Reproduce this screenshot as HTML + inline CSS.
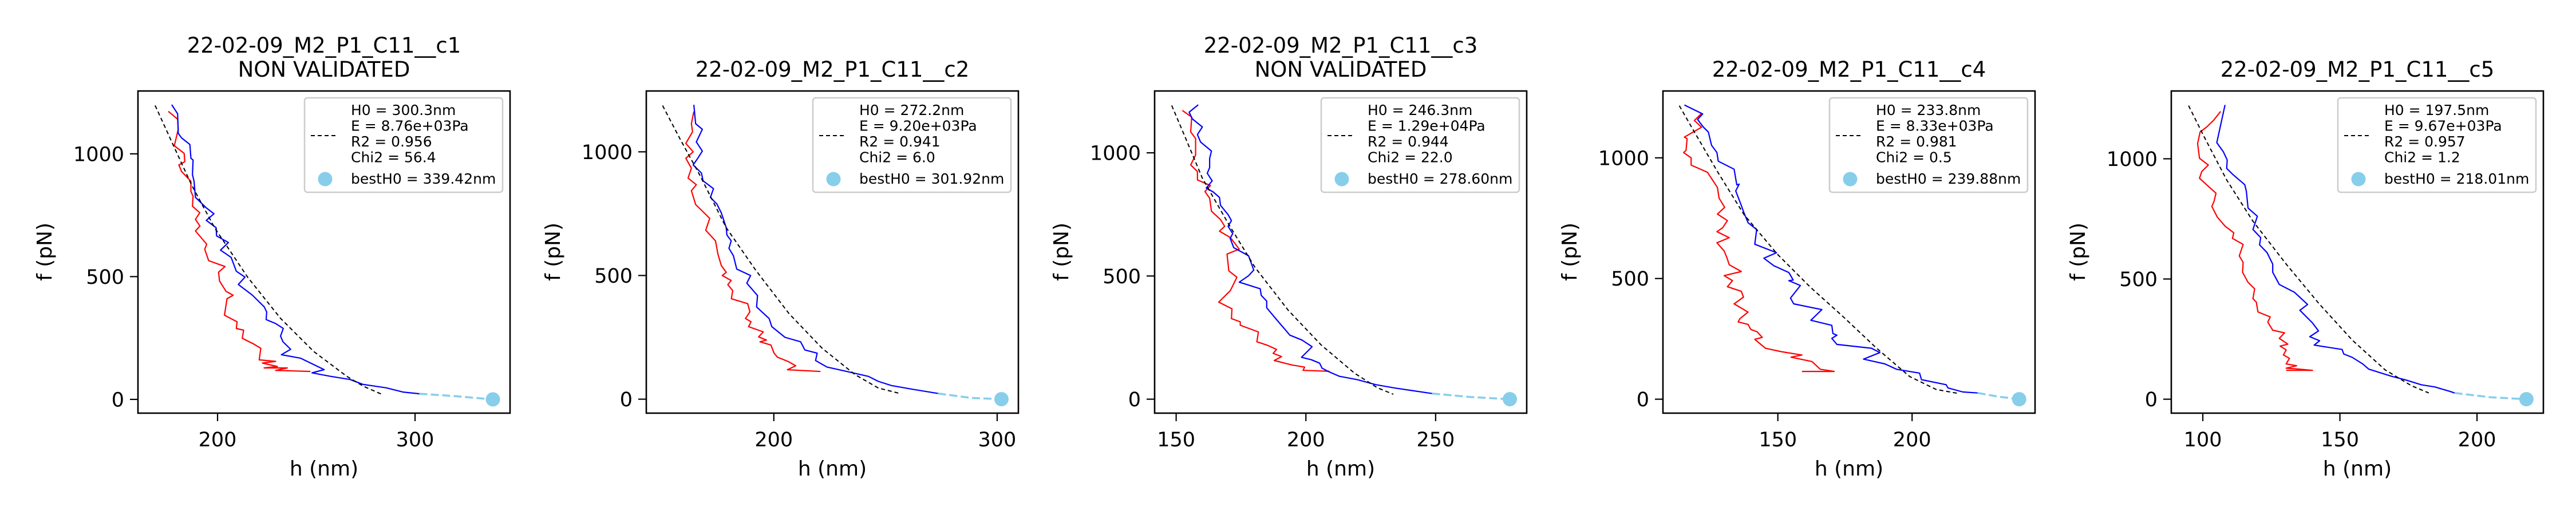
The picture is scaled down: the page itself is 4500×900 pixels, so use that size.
<!DOCTYPE html>
<html><head><meta charset="utf-8"><title>H0 fits</title>
<style>
html,body{margin:0;padding:0;background:#fff;}
svg{display:block;font-family:"DejaVu Sans","Liberation Sans",sans-serif;}
</style></head>
<body>
<svg id="fig" width="4500" height="900" viewBox="0 0 4500 900" xmlns="http://www.w3.org/2000/svg">
<rect width="4500" height="900" fill="#fff"/>
</svg>
<script>
// ---- data ----
const titles = ["22-02-09_M2_P1_C11__c1","22-02-09_M2_P1_C11__c2","22-02-09_M2_P1_C11__c3","22-02-09_M2_P1_C11__c4","22-02-09_M2_P1_C11__c5"];
const validated = [false,true,false,true,true];
const fitH0 = ["300.3","272.2","246.3","233.8","197.5"];
const fitE = ["8.76e+03","9.20e+03","1.29e+04","8.33e+03","9.67e+03"];
const fitR2 = ["0.956","0.941","0.944","0.981","0.957"];
const fitChi2 = ["56.4","6.0","22.0","0.5","1.2"];
const bestH0 = [339.42,301.92,278.60,239.88,218.01];
const xMin = [159.7,142.9,141.7,107.2,88.5];
const xMax = [348.1,309.5,285.1,245.8,224.2];
const yMin = [-56,-56.5,-56.7,-57.8,-58];
const yMax = [1256,1246,1251,1277,1282];
const xTicks = [[200,300],[200,300],[150,200,250],[150,200],[100,150,200]];
const yTicks = [0,500,1000];

const p1BlueH = [176.8,179.8,180.1,181.8,186.0,186.5,187.6,187.3,188.1,188.8,194.3,198.2,194.3,199.3,199.5,205.5,201.5,206.9,209.5,213.9,210.5,217.7,223.6,224.9,224.6,229.4,233.3,231.9,233.1,237.0,232.3,242.0,254.0,247.8,257.0,267.1,273.7,285.5,293.8,302.2];
const p1BlueF = [1200,1163,1083,1065,1038,982,975,915,888,823,780,756,729,699,666,639,608,578,522,498,468,424,377,356,325,309,289,258,235,204,182,168,121,108,94,81,61,47,30,23];
const p1RedH = [175.1,179.8,180.1,178.1,183.1,183.4,180.4,181.8,186.5,186.5,187.6,187.3,191.0,188.8,191.1,188.8,194.5,193.5,195.5,203.8,200.5,201.0,204.3,207.9,204.8,203.5,209.9,209.5,213.2,212.5,218.2,221.9,221.1,229.4,222.7,230.3,223.6,235.3,229.4,247.0];
const p1RedF = [1173,1141,1100,1033,1002,968,955,928,888,847,827,787,760,733,706,686,632,612,565,541,518,482,440,424,410,343,316,289,282,249,226,208,161,155,148,134,128,128,118,114];
const p1FitH = [168.4,176.8,186.8,198.5,215.2,231.9,248.7,265.4,273.7,283.4];
const p1FitF = [1197,1049,874,699,498,330,195,94,54,20];
const p1ExtH = [302.2,320.6,339.42];
const p1ExtF = [23,13,0];

const p2BlueH = [164.2,165.0,168.0,165.3,168.0,166.1,163.9,167.6,168.3,173.0,171.6,174.5,176.5,178.7,179.0,180.9,179.9,181.9,183.4,189.6,187.9,192.7,192.3,197.9,199.1,205.0,212.0,213.9,219.4,218.7,223.8,232.7,242.4,246.8,252.7,261.6,273.5];
const p2BlueF = [1190,1114,1091,1040,1003,976,947,914,883,851,816,789,753,693,664,640,610,580,526,500,469,419,373,326,293,250,232,199,186,156,130,112,92,72,55,41,23];
const p2RedH = [164.2,163.1,163.6,160.6,163.9,160.6,163.1,161.6,165.3,163.1,165.0,171.3,169.5,173.9,175.0,176.5,178.7,176.9,180.9,179.4,181.6,181.0,188.3,189.3,187.3,189.8,188.7,195.3,193.2,196.7,193.8,198.7,200.1,201.6,206.5,209.8,206.1,220.9];
const p2RedF = [1163,1114,1081,1034,1000,974,934,894,867,843,787,731,683,640,586,540,513,500,480,463,439,406,386,353,326,313,293,272,252,239,232,219,186,170,152,135,119,112];
const p2FitH = [150.2,157.9,166.8,178.7,192.0,206.8,221.6,236.4,246.8,256.4];
const p2FitF = [1187,1054,907,693,520,346,206,99,45,23];
const p2ExtH = [273.5,288.3,301.92];
const p2ExtF = [23,5,0];

const p3BlueH = [158.5,155.0,156.2,160.1,158.2,159.4,163.6,162.9,162.9,162.0,163.9,161.6,164.3,166.7,167.1,170.0,171.3,170.0,171.8,170.8,172.2,177.9,179.9,177.9,174.3,182.4,182.8,184.9,184.9,188.7,192.2,193.8,198.5,202.4,198.3,202.1,205.3,206.2,208.5,212.9,219.9,226.9,233.9,240.3,248.6];
const p3BlueF = [1195,1165,1138,1105,1074,1044,1007,977,940,917,886,857,841,819,787,749,725,702,672,653,615,582,524,501,475,448,421,398,371,323,280,260,240,213,170,160,146,126,113,93,79,59,46,36,23];
const p3RedH = [152.4,156.0,155.6,157.5,157.5,155.6,158.2,158.2,163.2,161.1,162.9,163.6,167.1,168.7,166.7,170.9,174.3,169.6,170.3,173.4,170.9,166.4,171.5,171.3,174.7,174.7,181.7,181.1,184.9,188.7,187.4,190.6,187.8,194.5,199.5,198.9,209.1];
const p3RedF = [1172,1145,1085,1058,991,951,924,890,867,843,816,763,729,702,682,656,609,589,521,495,441,394,367,327,314,300,273,233,220,202,186,173,157,139,130,117,113];
const p3FitH = [148.3,153.7,160.1,170.3,180.4,193.2,205.9,218.7,227.6,233.7];
const p3FitF = [1192,1058,897,709,535,361,220,106,46,20];
const p3ExtH = [248.6,263.2,278.60];
const p3ExtF = [23,9,0];

const p4BlueH = [115.2,122.0,120.1,122.3,124.1,125.3,127.3,127.8,133.7,134.7,135.6,134.3,135.9,137.4,138.9,142.1,141.4,149.5,144.8,148.5,154.1,155.7,154.1,158.4,154.7,155.9,166.4,162.3,170.1,170.5,172.0,170.1,172.0,184.9,188.0,181.9,189.9,194.2,202.8,203.5,212.7,213.3,218.9,224.4];
const p4BlueF = [1219,1182,1159,1127,1107,1052,1022,986,953,888,891,863,817,772,731,703,642,607,584,553,525,494,491,471,419,395,371,327,306,272,265,252,227,211,193,166,146,124,108,81,60,47,30,26];
const p4RedH = [121.4,118.9,121.6,115.2,116.2,115.8,114.9,117.7,117.7,123.8,127.5,128.1,130.2,127.5,131.2,129.4,127.3,131.9,127.3,130.0,131.0,131.9,136.4,130.0,133.1,131.2,136.4,137.2,133.7,138.9,135.9,135.2,138.9,139.9,142.3,144.2,141.4,145.4,151.2,159.0,154.9,162.7,165.8,171.0,159.0];
const p4RedF = [1182,1155,1127,1086,1079,1031,1022,1000,970,940,877,833,795,767,740,710,694,669,648,614,587,557,529,512,491,466,447,423,395,361,334,320,310,289,279,256,248,211,197,183,174,156,124,115,115];
const p4FitH = [113.3,118.9,127.5,137.4,149.8,162.1,174.4,186.8,199.1,209.0,217.7];
const p4FitF = [1216,1107,943,765,601,464,341,211,94,40,23];
const p4ExtH = [224.4,232.5,239.88];
const p4ExtF = [26,10,0];

const p5BlueH = [108.1,105.1,107.5,108.9,108.7,111.1,114.7,115.3,115.9,116.5,119.9,118.3,121.1,120.7,123.4,125.5,125.5,127.9,133.4,138.2,135.4,140.0,142.2,139.0,142.6,140.6,150.8,151.4,154.5,158.3,160.5,168.9,173.7,179.7,184.6,190.0,191.8];
const p5BlueF = [1224,1067,1029,995,960,933,898,892,864,795,761,706,672,642,610,562,528,477,445,394,370,317,284,260,243,225,207,188,174,147,125,95,81,60,51,33,26];
const p5RedH = [106.5,103.9,101.4,99.0,98.1,98.8,102.0,99.6,98.8,101.4,104.8,104.1,103.3,105.3,108.1,111.3,110.8,114.7,113.3,114.7,114.5,116.5,118.9,118.3,119.5,120.1,124.6,123.7,125.5,129.8,127.9,131.0,128.2,130.4,129.4,131.6,130.4,134.2,130.4,135.2,140.0,130.4];
const p5RedF = [1197,1160,1132,1111,1063,1002,974,947,919,892,857,823,802,757,720,692,669,644,596,569,528,486,459,418,404,363,342,321,287,276,253,229,221,205,184,170,147,139,129,125,120,120];
const p5FitH = [94.8,100.2,108.7,118.3,130.4,142.4,154.5,166.5,176.1,182.4];
const p5FitF = [1221,1098,912,740,562,397,246,122,56,26];
const p5ExtH = [191.8,205.0,218.01];
const p5ExtF = [26,8,0];

const blueH = [p1BlueH,p2BlueH,p3BlueH,p4BlueH,p5BlueH];
const blueF = [p1BlueF,p2BlueF,p3BlueF,p4BlueF,p5BlueF];
const redH = [p1RedH,p2RedH,p3RedH,p4RedH,p5RedH];
const redF = [p1RedF,p2RedF,p3RedF,p4RedF,p5RedF];
const fitH = [p1FitH,p2FitH,p3FitH,p4FitH,p5FitH];
const fitF = [p1FitF,p2FitF,p3FitF,p4FitF,p5FitF];
const extH = [p1ExtH,p2ExtH,p3ExtH,p4ExtH,p5ExtH];
const extF = [p1ExtF,p2ExtF,p3ExtF,p4ExtF,p5ExtF];

// ---- drawing ----
const NS = "http://www.w3.org/2000/svg";
const svg = document.getElementById("fig");
function mk(tag, attrs, parent){
  const e = document.createElementNS(NS, tag);
  for (const k in attrs) e.setAttribute(k, attrs[k]);
  (parent||svg).appendChild(e);
  return e;
}
const AX_TOP = 159, AX_H = 563, AX_W = 650;

for (let i = 0; i < 5; i++) {
  const L = 241 + i*888;
  const g = mk("g", {});
  
  
  const sx = v => L + (v - xMin[i]) / (xMax[i] - xMin[i]) * AX_W;
  const sy = v => AX_TOP + AX_H - (v - yMin[i]) / (yMax[i] - yMin[i]) * AX_H;
  const cx = L + AX_W/2;

  // clip
  const cp = mk("clipPath", {id: "clip" + i}, g);
  mk("rect", {x: L, y: AX_TOP, width: AX_W, height: AX_H}, cp);

  // title
  const t = mk("text", {x: cx, "text-anchor": "middle", "font-size": 37, fill: "#000"}, g);
  
  
  if (validated[i]) {
    t.setAttribute("y", 134);
    t.textContent = titles[i];
  } else {
    t.setAttribute("y", 92);
    t.textContent = titles[i];
    const t2 = mk("text", {x: cx, y: 134, "text-anchor": "middle", "font-size": 37, fill: "#000"}, g);
    
    
    t2.textContent = "NON VALIDATED";
  }

  const toPts = (H, F) => H.map((h, k) => sx(h).toFixed(1) + "," + sy(F[k]).toFixed(1)).join(" ");
  const plot = mk("g", {"clip-path": "url(#clip" + i + ")"}, g);

  const red = mk("polyline", {points: toPts(redH[i], redF[i]), fill: "none", stroke: "#ff0000", "stroke-width": 2.2, "stroke-linejoin": "round"}, plot);
  
  
  const ext = mk("polyline", {points: toPts(extH[i], extF[i]), fill: "none", stroke: "#87ceeb", "stroke-width": 3.5, "stroke-dasharray": "14,6"}, plot);
  
  
  const blue = mk("polyline", {points: toPts(blueH[i], blueF[i]), fill: "none", stroke: "#0000ff", "stroke-width": 2.2, "stroke-linejoin": "round"}, plot);
  
  
  const fit = mk("polyline", {points: toPts(fitH[i], fitF[i]), fill: "none", stroke: "#000", "stroke-width": 2, "stroke-dasharray": "7,5"}, plot);
  
  
  const pt = mk("circle", {cx: sx(bestH0[i]), cy: sy(0), r: 12.5, fill: "#87ceeb"}, plot);
  
  

  // axes frame
  const fr = mk("rect", {x: L, y: AX_TOP, width: AX_W, height: AX_H, fill: "none", stroke: "#000", "stroke-width": 2.6}, g);
  
  

  // x ticks
  xTicks[i].forEach(v => {
    const x = sx(v);
    const tk = mk("line", {x1: x, x2: x, y1: AX_TOP + AX_H, y2: AX_TOP + AX_H + 14, stroke: "#000", "stroke-width": 2.2}, g);
    
    
    const lb = mk("text", {x: x, y: 780, "text-anchor": "middle", "font-size": 35, fill: "#000"}, g);
    
    
    lb.textContent = String(v);
  });
  // y ticks
  yTicks.forEach(v => {
    const y = sy(v);
    const tk = mk("line", {x1: L - 14, x2: L, y1: y, y2: y, stroke: "#000", "stroke-width": 2.2}, g);
    
    
    const lb = mk("text", {x: L - 24, y: y + 12.5, "text-anchor": "end", "font-size": 35, fill: "#000"}, g);
    
    
    lb.textContent = String(v);
  });
  const xl = mk("text", {x: cx, y: 831, "text-anchor": "middle", "font-size": 36, fill: "#000"}, g);
  
  
  xl.textContent = "h (nm)";
  const yl = mk("text", {x: 0, y: 0, "text-anchor": "middle", "font-size": 36, fill: "#000", transform: "translate(" + (L - 151) + ",440) rotate(-90)"}, g);
  
  
  yl.textContent = "f (pN)";

  // legend
  const LL = L + AX_W - 13 - 346, LT = AX_TOP + 12;
  const lg = mk("g", {}, g);
  
  
  mk("rect", {x: LL, y: LT, width: 346, height: 165, rx: 5, fill: "#fff", "fill-opacity": 0.8, stroke: "#cccccc", "stroke-width": 2.5}, lg);
  const ll = mk("line", {x1: LL + 11, x2: LL + 59, y1: LT + 66, y2: LT + 66, stroke: "#000", "stroke-width": 2, "stroke-dasharray": "7,5"}, lg);
  
  
  const lines = ["H0 = " + fitH0[i] + "nm", "E = " + fitE[i] + "Pa", "R2 = " + fitR2[i], "Chi2 = " + fitChi2[i]];
  lines.forEach((s, k) => {
    const tx = mk("text", {x: LL + 81, y: LT + 30 + k*27.5, "font-size": 25, fill: "#000"}, lg);
    
    
    tx.textContent = s;
  });
  const lm = mk("circle", {cx: LL + 36, cy: LT + 142, r: 12.5, fill: "#87ceeb"}, lg);
  
  
  const lbt = mk("text", {x: LL + 81, y: LT + 150, "font-size": 25, fill: "#000"}, lg);
  
  
  lbt.textContent = "bestH0 = " + bestH0[i].toFixed(2) + "nm";
}
</script>
</body></html>
